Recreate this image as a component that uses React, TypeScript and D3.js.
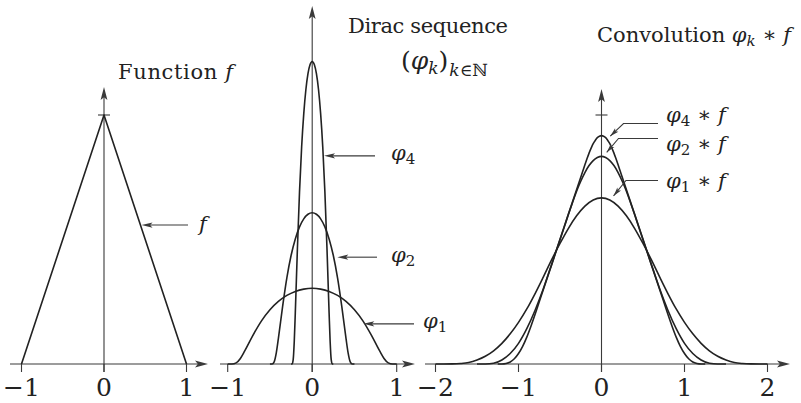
import React from "react";
import * as d3 from "d3";

// ---- Function f (triangle) ----
const fX = [-1, 0, 1];
const fY = [0, 1, 0];

// ---- Dirac sequence φ1, φ2, φ4 ----
const phi1X = [-1, -0.95, -0.9, -0.85, -0.8, -0.7, -0.6, -0.5, -0.4, -0.3, -0.2, -0.1, 0, 0.1, 0.2, 0.3, 0.4, 0.5, 0.6, 0.7, 0.8, 0.85, 0.9, 0.95, 1];
const phi1Y = [0, 0.0001, 0.012, 0.061, 0.14, 0.316, 0.472, 0.594, 0.685, 0.751, 0.795, 0.82, 0.829, 0.82, 0.795, 0.751, 0.685, 0.594, 0.472, 0.316, 0.14, 0.061, 0.012, 0.0001, 0];

const phi2X = [-0.5, -0.475, -0.45, -0.425, -0.4, -0.35, -0.3, -0.25, -0.2, -0.15, -0.1, -0.05, 0, 0.05, 0.1, 0.15, 0.2, 0.25, 0.3, 0.35, 0.4, 0.425, 0.45, 0.475, 0.5];
const phi2Y = [0, 0.0002, 0.024, 0.122, 0.28, 0.632, 0.944, 1.188, 1.37, 1.502, 1.59, 1.64, 1.657, 1.64, 1.59, 1.502, 1.37, 1.188, 0.944, 0.632, 0.28, 0.122, 0.024, 0.0002, 0];

const phi4X = [-0.25, -0.2375, -0.225, -0.2125, -0.2, -0.175, -0.15, -0.125, -0.1, -0.075, -0.05, -0.025, 0, 0.025, 0.05, 0.075, 0.1, 0.125, 0.15, 0.175, 0.2, 0.2125, 0.225, 0.2375, 0.25];
const phi4Y = [0, 0.0004, 0.047, 0.244, 0.56, 1.264, 1.888, 2.376, 2.74, 3.004, 3.18, 3.28, 3.314, 3.28, 3.18, 3.004, 2.74, 2.376, 1.888, 1.264, 0.56, 0.244, 0.047, 0.0004, 0];

// ---- Convolutions φk * f ----
const conv1X = [-2, -1.9, -1.8, -1.7, -1.6, -1.5, -1.4, -1.3, -1.2, -1.1, -1, -0.9, -0.8, -0.7, -0.6, -0.5, -0.4, -0.3, -0.2, -0.1, 0, 0.1, 0.2, 0.3, 0.4, 0.5, 0.6, 0.7, 0.8, 0.9, 1, 1.1, 1.2, 1.3, 1.4, 1.5, 1.6, 1.7, 1.8, 1.9, 2];
const conv1Y = [0, 0, 0.0004, 0.002, 0.006, 0.016, 0.031, 0.053, 0.083, 0.121, 0.167, 0.221, 0.283, 0.35, 0.419, 0.484, 0.544, 0.595, 0.634, 0.659, 0.667, 0.659, 0.634, 0.595, 0.544, 0.484, 0.419, 0.35, 0.283, 0.221, 0.167, 0.121, 0.083, 0.053, 0.031, 0.016, 0.006, 0.002, 0.0004, 0, 0];

const conv2X = [-1.5, -1.4, -1.3, -1.2, -1.1, -1, -0.9, -0.8, -0.7, -0.6, -0.5, -0.45, -0.4, -0.35, -0.3, -0.25, -0.2, -0.15, -0.1, -0.05, 0, 0.05, 0.1, 0.15, 0.2, 0.25, 0.3, 0.35, 0.4, 0.45, 0.5, 0.6, 0.7, 0.8, 0.9, 1, 1.1, 1.2, 1.3, 1.4, 1.5];
const conv2Y = [0, 0, 0.003, 0.016, 0.042, 0.083, 0.142, 0.216, 0.303, 0.4, 0.5, 0.55, 0.6, 0.648, 0.694, 0.734, 0.769, 0.797, 0.817, 0.829, 0.834, 0.829, 0.817, 0.797, 0.769, 0.734, 0.694, 0.648, 0.6, 0.55, 0.5, 0.4, 0.303, 0.216, 0.142, 0.083, 0.042, 0.016, 0.003, 0, 0];

const conv4X = [-1.25, -1.2, -1.15, -1.1, -1.05, -1, -0.95, -0.9, -0.85, -0.8, -0.75, -0.625, -0.5, -0.375, -0.25, -0.225, -0.2, -0.175, -0.15, -0.125, -0.1, -0.075, -0.05, -0.025, 0, 0.025, 0.05, 0.075, 0.1, 0.125, 0.15, 0.175, 0.2, 0.225, 0.25, 0.375, 0.5, 0.625, 0.75, 0.8, 0.85, 0.9, 0.95, 1, 1.05, 1.1, 1.15, 1.2, 1.25];
const conv4Y = [0, 0, 0.002, 0.008, 0.021, 0.042, 0.071, 0.108, 0.152, 0.2, 0.25, 0.375, 0.5, 0.625, 0.75, 0.775, 0.8, 0.824, 0.847, 0.867, 0.885, 0.898, 0.909, 0.915, 0.917, 0.915, 0.909, 0.898, 0.885, 0.867, 0.847, 0.824, 0.8, 0.775, 0.75, 0.625, 0.5, 0.375, 0.25, 0.2, 0.152, 0.108, 0.071, 0.042, 0.021, 0.008, 0.002, 0, 0];

// ---- Tick labels ----
const ticks1 = [-1, 0, 1];
const ticks2 = [-1, 0, 1];
const ticks3 = [-2, -1, 0, 1, 2];
const fmt = (v: number) => (v < 0 ? "\u2212" + Math.abs(v) : String(v));

const FONT = "DejaVu Serif";
const INK = "#222";
const AXIS = "#3a3a3a";

function arrowHead(tx: number, ty: number, fromX: number, fromY: number, len: number, half: number) {
  const dx = tx - fromX;
  const dy = ty - fromY;
  const d = Math.hypot(dx, dy) || 1;
  const ux = dx / d, uy = dy / d;
  const px = -uy, py = ux;
  const bx = tx - ux * len, by = ty - uy * len;
  const nx = tx - ux * len * 0.78, ny = ty - uy * len * 0.78;
  return `M${tx},${ty}L${bx + px * half},${by + py * half}L${nx},${ny}L${bx - px * half},${by - py * half}Z`;
}

type Scale = d3.ScaleLinear<number, number>;

function pathOf(xs: number[], ys: number[], sx: Scale, sy: Scale, curve: d3.CurveFactory) {
  const idx = d3.range(xs.length);
  return d3.line<number>().x((i) => sx(xs[i])).y((i) => sy(ys[i])).curve(curve)(idx) || "";
}

const textStyle = { fontFamily: FONT };

function Axes({ sx, sy, x0, x1, top, ticks, unitTick }: { sx: Scale; sy: Scale; x0: number; x1: number; top: number; ticks: number[]; unitTick?: number }) {
  const yb = sy(0);
  const xc = sx(0);
  return (
    <g>
      <line x1={x0} y1={yb} x2={x1 - 8} y2={yb} stroke={AXIS} strokeWidth={1.1} />
      <path d={arrowHead(x1, yb, x0, yb, 13, 3.4)} fill={AXIS} />
      <line x1={xc} y1={yb + 8} x2={xc} y2={top + 8} stroke={AXIS} strokeWidth={1.1} />
      <path d={arrowHead(xc, top, xc, yb, 13, 3.4)} fill={AXIS} />
      {ticks.map((t) => (
        <g key={t}>
          <line x1={sx(t)} y1={yb} x2={sx(t)} y2={yb + 8} stroke={AXIS} strokeWidth={1.1} />
          <text x={sx(t)} y={396} textAnchor="middle" style={textStyle} fontSize={25} fill={INK}>
            {fmt(t)}
          </text>
        </g>
      ))}
      {unitTick !== undefined && (
        <line x1={xc - 6} y1={sy(unitTick)} x2={xc + 6} y2={sy(unitTick)} stroke={AXIS} strokeWidth={1.1} />
      )}
    </g>
  );
}

function Pointer({ tip, tailX, label, sub, labelX, baseline }: { tip: [number, number]; tailX: number; label: string; sub?: string; labelX: number; baseline: number }) {
  return (
    <g>
      <line x1={tailX} y1={tip[1]} x2={tip[0] + 8} y2={tip[1]} stroke={AXIS} strokeWidth={1.1} />
      <path d={arrowHead(tip[0], tip[1], tailX, tip[1], 11, 2.6)} fill={AXIS} />
      <text x={labelX} y={baseline} style={textStyle} fontSize={21} fill={INK}>
        <tspan fontStyle="italic">{label}</tspan>
        {sub && (
          <tspan fontSize={15} dy={4}>
            {sub}
          </tspan>
        )}
      </text>
    </g>
  );
}

function Leader({ tip, knee, endX, sub, baseline }: { tip: [number, number]; knee: [number, number]; endX: number; sub: string; baseline: number }) {
  return (
    <g>
      <polyline points={`${endX},${knee[1]} ${knee[0]},${knee[1]} ${tip[0]},${tip[1]}`} fill="none" stroke={AXIS} strokeWidth={1.1} />
      <path d={arrowHead(tip[0], tip[1], knee[0], knee[1], 9, 2.4)} fill={AXIS} />
      <text x={endX + 8} y={baseline} style={textStyle} fontSize={21} fill={INK}>
        <tspan fontStyle="italic">{"\u03C6"}</tspan>
        <tspan fontSize={15} dy={4}>{sub}</tspan>
        <tspan dy={-4}>{" \u2217 "}</tspan>
        <tspan fontStyle="italic">f</tspan>
      </text>
    </g>
  );
}

export default function App() {
  // Panel 1: f
  const sx1 = d3.scaleLinear().domain([-1, 1]).range([21.5, 186.5]);
  const sy1 = d3.scaleLinear().domain([0, 1]).range([364, 115]);
  // Panel 2: Dirac sequence
  const sx2 = d3.scaleLinear().domain([-1, 1]).range([227.7, 396.7]);
  const sy2 = d3.scaleLinear().domain([0, 1]).range([364, 272.7]);
  // Panel 3: convolutions
  const sx3 = d3.scaleLinear().domain([-2, 2]).range([435.5, 767.5]);
  const sy3 = d3.scaleLinear().domain([0, 1]).range([364, 115]);

  const curveStyle = { fill: "none", stroke: INK, strokeWidth: 1.6, strokeLinejoin: "round" as const };

  const pt = (sx: Scale, sy: Scale, x: number, y: number): [number, number] => [sx(x), sy(y)];

  return (
    <svg width={801} height={403} style={{ position: "absolute", left: 0, top: 0, background: "#fff" }}>
      <rect width={801} height={403} fill="#fff" />

      {/* Panel 1 */}
      <Axes sx={sx1} sy={sy1} x0={10} x1={208} top={87} ticks={ticks1} unitTick={1} />
      <path d={pathOf(fX, fY, sx1, sy1, d3.curveLinear)} {...curveStyle} />
      <Pointer tip={pt(sx1, sy1, 0.455, 0.558)} tailX={188} label="f" labelX={199} baseline={231} />
      <text x={118} y={79} style={textStyle} fontSize={21} fill={INK} textLength={115}>
        Function <tspan fontStyle="italic">f</tspan>
      </text>

      {/* Panel 2 */}
      <Axes sx={sx2} sy={sy2} x0={220} x1={415} top={6} ticks={ticks2} />
      <path d={pathOf(phi1X, phi1Y, sx2, sy2, d3.curveMonotoneX)} {...curveStyle} />
      <path d={pathOf(phi2X, phi2Y, sx2, sy2, d3.curveMonotoneX)} {...curveStyle} />
      <path d={pathOf(phi4X, phi4Y, sx2, sy2, d3.curveMonotoneX)} {...curveStyle} />
      <Pointer tip={pt(sx2, sy2, 0.14, 2.28)} tailX={375} label={"\u03C6"} sub="4" labelX={391} baseline={160} />
      <Pointer tip={pt(sx2, sy2, 0.297, 1.17)} tailX={377} label={"\u03C6"} sub="2" labelX={391} baseline={262} />
      <Pointer tip={pt(sx2, sy2, 0.605, 0.44)} tailX={414} label={"\u03C6"} sub="1" labelX={423} baseline={328} />
      <text x={348} y={33} style={textStyle} fontSize={21} fill={INK} textLength={160}>
        Dirac sequence
      </text>
      <text x={401} y={69} style={textStyle} fontSize={25} fill={INK}>
        (<tspan fontStyle="italic">{"\u03C6"}</tspan>
        <tspan fontSize={17} dy={5} fontStyle="italic">k</tspan>
        <tspan dy={-5}>)</tspan>
        <tspan fontSize={17} dy={7} dx={1}>
          <tspan fontStyle="italic">k</tspan>
          {"\u2208\u2115"}
        </tspan>
      </text>

      {/* Panel 3 */}
      <Axes sx={sx3} sy={sy3} x0={425} x1={790} top={89} ticks={ticks3} unitTick={1} />
      <path d={pathOf(conv1X, conv1Y, sx3, sy3, d3.curveMonotoneX)} {...curveStyle} />
      <path d={pathOf(conv2X, conv2Y, sx3, sy3, d3.curveMonotoneX)} {...curveStyle} />
      <path d={pathOf(conv4X, conv4Y, sx3, sy3, d3.curveMonotoneX)} {...curveStyle} />
      <Leader tip={pt(sx3, sy3, 0.105, 0.915)} knee={[623.5, 123.5]} endX={658} sub="4" baseline={122} />
      <Leader tip={pt(sx3, sy3, 0.063, 0.85)} knee={[618.5, 138.5]} endX={658} sub="2" baseline={151} />
      <Leader tip={pt(sx3, sy3, 0.145, 0.675)} knee={[626, 180.5]} endX={658} sub="1" baseline={188} />
      <text x={597} y={42} style={textStyle} fontSize={21} fill={INK} textLength={194}>
        Convolution <tspan fontStyle="italic">{"\u03C6"}</tspan>
        <tspan fontSize={15} dy={4} fontStyle="italic">k</tspan>
        <tspan dy={-4}>{" \u2217 "}</tspan>
        <tspan fontStyle="italic">f</tspan>
      </text>
    </svg>
  );
}
